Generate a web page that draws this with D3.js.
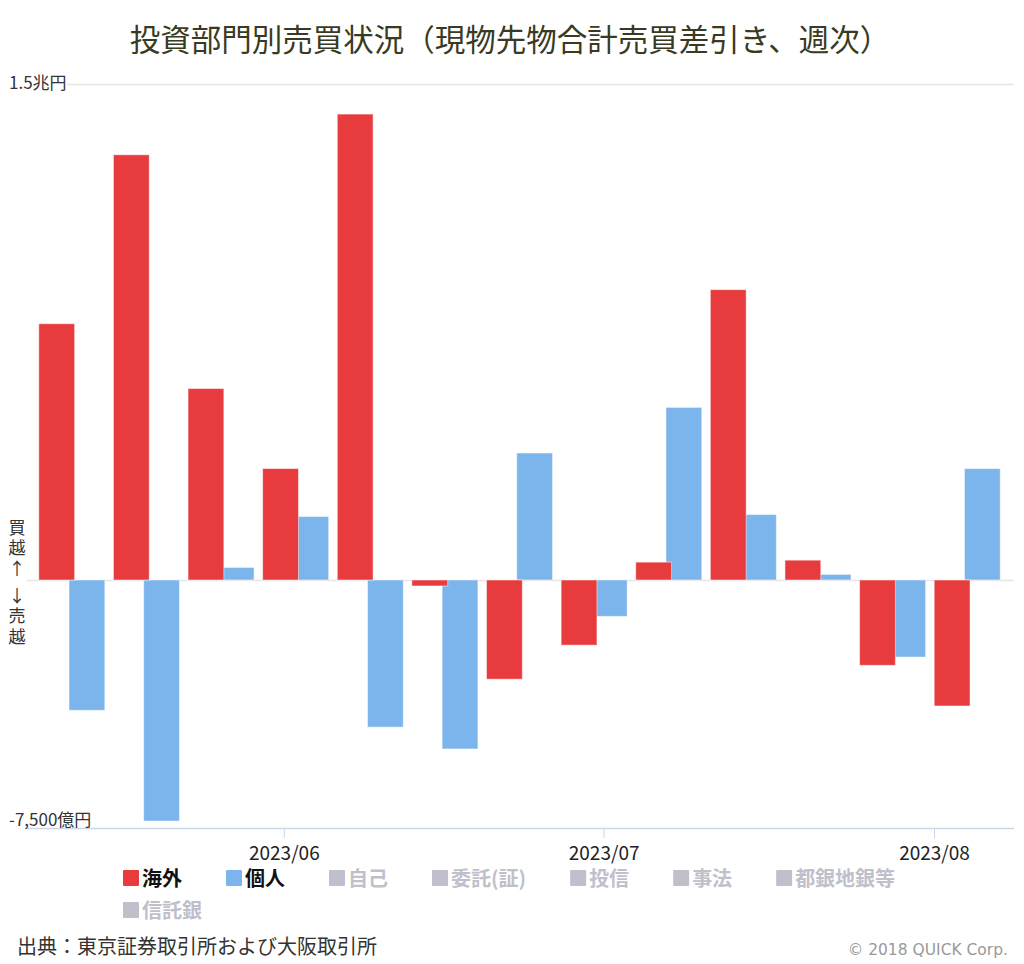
<!DOCTYPE html>
<html>
<head>
<meta charset="utf-8">
<script src="https://cdn.jsdelivr.net/npm/d3@7"></script>
<style>
  html, body { margin: 0; padding: 0; background: #fff; }
  svg { display: block; font-family: "Noto Sans CJK JP", "Noto Sans", sans-serif; }
</style>
</head>
<body>
<svg id="chart" width="1024" height="964"></svg>
<script>
// ---- data ----
const weeks = ["2023-05-12","2023-05-19","2023-05-26","2023-06-02","2023-06-09","2023-06-16","2023-06-23","2023-06-30","2023-07-07","2023-07-14","2023-07-21","2023-07-28","2023-08-04"];
const foreign = [7750, 12860, 5790, 3370, 14090, -180, -3000, -1970, 540, 8780, 600, -2580, -3810];   // 海外 (億円)
const individual = [-3940, -7290, 380, 1920, -4450, -5110, 3840, -1100, 5220, 1980, 170, -2330, 3370]; // 個人 (億円)
const legendNames = ["海外", "個人", "自己", "委託(証)", "投信", "事法", "都銀地銀等", "信託銀"];
const legendVisible = [true, true, false, false, false, false, false, false];
const yTickValues = [15000, -7500];
const yTickLabels = ["1.5兆円", "-7,500億円"];
const titleText = "投資部門別売買状況（現物先物合計売買差引き、週次）";
const sourceText = "出典：東京証券取引所および大阪取引所";
const creditText = "© 2018 QUICK Corp.";
const sideLabels = ["買越↑", "↓売越"];

(function () {
// ---- styles ----
const RED = "#e73b3d", BLUE = "#7cb5ec", HIDDEN = "#c0c0cc";
const svg = d3.select("#chart");
const parse = d3.utcParse("%Y-%m-%d");
const dates = weeks.map(parse);

const pLeft = 28, pRight = 1014, pTop = 84, pBottom = 828;
const x = d3.scaleUtc()
  .domain([d3.utcDay.offset(dates[0], -4), d3.utcHour.offset(dates[dates.length - 1], 108)])
  .range([pLeft, pRight]);
const y = d3.scaleLinear().domain([-7500, 15000]).range([pBottom, pTop]);

// title
svg.append("text").attr("x", 510).attr("y", 51).attr("text-anchor", "middle")
  .attr("font-size", 30.5).attr("fill", "#3a3a22").text(titleText);

// zero line
svg.append("line").attr("x1", pLeft - 1).attr("x2", pRight).attr("y1", Math.round(y(0)) + 0.5).attr("y2", Math.round(y(0)) + 0.5)
  .attr("stroke", "#e6e6e6").attr("stroke-width", 1.5);

// bars
const wk = x(d3.utcDay.offset(dates[0], 7)) - x(dates[0]);
const bw = wk * 0.48;
const g = svg.append("g");
g.selectAll("rect.blue").data(individual).join("rect").attr("class", "blue")
  .attr("x", (d, i) => x(dates[i]) + 1 - wk * 0.035)
  .attr("width", bw)
  .attr("y", d => y(Math.max(0, d)))
  .attr("height", d => Math.abs(y(d) - y(0)))
  .attr("fill", BLUE).attr("stroke", "#fff").attr("stroke-opacity", 0.5).attr("stroke-width", 1);
g.selectAll("rect.red").data(foreign).join("rect").attr("class", "red")
  .attr("x", (d, i) => x(dates[i]) + 1 - wk * 0.44)
  .attr("width", bw)
  .attr("y", d => y(Math.max(0, d)))
  .attr("height", d => Math.abs(y(d) - y(0)))
  .attr("fill", RED).attr("stroke", "#fff").attr("stroke-opacity", 0.5).attr("stroke-width", 1);

// x axis
svg.append("line").attr("x1", pLeft - 1).attr("x2", pRight).attr("y1", pBottom + 0.5).attr("y2", pBottom + 0.5)
  .attr("stroke", "#ccd6eb").attr("stroke-width", 1.5);
const xAxis = d3.axisBottom(x).ticks(d3.utcMonth.every(1)).tickFormat(d3.utcFormat("%Y/%m")).tickSize(10).tickSizeOuter(0);
const ax = svg.append("g").attr("transform", `translate(0,${pBottom})`).call(xAxis);
ax.select(".domain").remove();
ax.selectAll(".tick line").attr("stroke", "#ccd6eb");
ax.selectAll(".tick text").attr("font-size", 19).attr("fill", "#222").attr("dy", null).attr("y", 32)
  .attr("font-family", "'Noto Sans CJK JP', sans-serif");

// y labels and top gridline
yTickValues.forEach((v, i) => {
  const t = svg.append("text").attr("x", 9).attr("y", y(v) + (i === 0 ? 5 : -2))
    .attr("font-size", 17).attr("fill", "#333").text(yTickLabels[i]);
  if (i === 0) {
    const bb = t.node().getBBox();
    svg.insert("line", "text").attr("x1", bb.x + bb.width).attr("x2", pRight)
      .attr("y1", y(v) + 0.5).attr("y2", y(v) + 0.5).attr("stroke", "#e6e6e6").attr("stroke-width", 1.5);
  }
});

// side label 買越↑ / ↓売越 (vertical)
const sideStart = [519, 587];
sideLabels.forEach((s, i) => {
  svg.append("text").attr("x", 17).attr("y", sideStart[i])
    .style("writing-mode", "vertical-rl").style("text-orientation", "upright")
    .attr("letter-spacing", 3.5)
    .attr("font-size", 17).attr("fill", "#333").text(s);
});

// legend
let lx = 123, ly = 870;
const legendColors = legendNames.map((n, i) => legendVisible[i] ? (i === 0 ? RED : BLUE) : HIDDEN);
legendNames.forEach((n, i) => {
  const item = svg.append("g");
  item.append("rect").attr("width", 16).attr("height", 16).attr("rx", 1).attr("fill", legendColors[i]);
  const t = item.append("text").attr("x", 19).attr("y", 16).attr("font-size", 20).attr("font-weight", "bold")
    .attr("fill", legendVisible[i] ? "#111" : HIDDEN).text(n);
  const w = 19 + t.node().getComputedTextLength();
  if (lx + w > 1005) { lx = 123; ly += 32; }
  item.attr("transform", `translate(${lx},${ly})`);
  lx += w + 44;
});

// footer
svg.append("text").attr("x", 17).attr("y", 954).attr("font-size", 20).attr("fill", "#333").text(sourceText);
svg.append("text").attr("x", 1008).attr("y", 955).attr("text-anchor", "end").attr("font-size", 15.5).attr("fill", "#999")
  .attr("font-family", "'DejaVu Sans', sans-serif").text(creditText);
})();
</script>
</body>
</html>
